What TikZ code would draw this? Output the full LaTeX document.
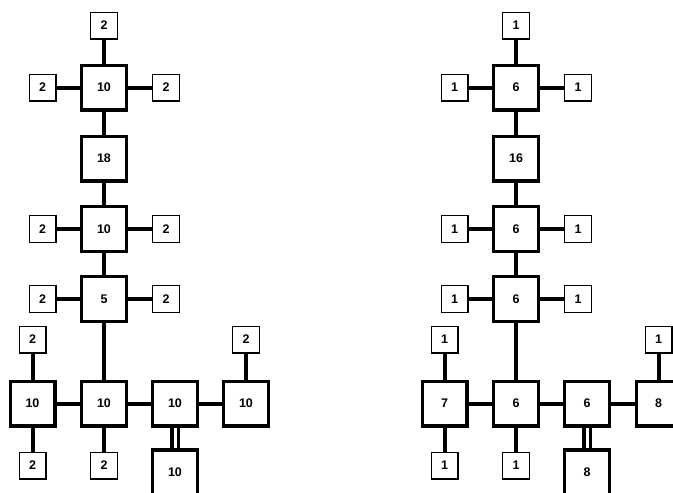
\documentclass[tikz,border=0pt]{standalone}
\usepackage{fontspec}
\setmainfont{Liberation Sans}
\begin{document}
\begin{tikzpicture}[x=1pt,y=-1pt,
  big/.style={draw=black,line width=3.3pt,fill=white,minimum width=44.7pt,minimum height=44.7pt,inner sep=0pt,font=\bfseries\fontsize{12.5}{14}\selectfont},
  small/.style={draw=black,line width=1.1pt,fill=white,minimum width=26.9pt,minimum height=26.9pt,inner sep=0pt,font=\bfseries\fontsize{12.5}{14}\selectfont},
  conn/.style={line width=4pt,draw=black},
  dconn/.style={line width=3.6pt,draw=black}]
\useasboundingbox (0,0) rectangle (673,493);
\clip (0,0) rectangle (673,493);
% ---------------- Left structure ----------------
\node[big] (La) at (104,87.5) {10};
\node[big] (Lb) at (104,158.5) {18};
\node[big] (Lc) at (104,229) {10};
\node[big] (Ld) at (104,299) {5};
\node[big] (Le1) at (32.5,403.5) {10};
\node[big] (Le2) at (104,403.5) {10};
\node[big] (Le3) at (175,403.5) {10};
\node[big] (Le4) at (246,403.5) {10};
\node[big] (Lf) at (175,472.3) {10};
\node[small] (Lat) at (104,25.5) {2};
\node[small] (Lal) at (42.5,87.5) {2};
\node[small] (Lar) at (166,87.5) {2};
\node[small] (Lcl) at (42.5,229) {2};
\node[small] (Lcr) at (166,229) {2};
\node[small] (Ldl) at (42.5,299) {2};
\node[small] (Ldr) at (166,299) {2};
\node[small] (Le1t) at (32.5,339.5) {2};
\node[small] (Le4t) at (246,339.5) {2};
\node[small] (Le1b) at (32.5,465.5) {2};
\node[small] (Le2b) at (104,465.5) {2};
% connectors left
\draw[conn] (Lat) -- (La);
\draw[conn] (Lal) -- (La);
\draw[conn] (La) -- (Lar);
\draw[conn] (La) -- (Lb);
\draw[conn] (Lb) -- (Lc);
\draw[conn] (Lcl) -- (Lc);
\draw[conn] (Lc) -- (Lcr);
\draw[conn] (Lc) -- (Ld);
\draw[conn] (Ldl) -- (Ld);
\draw[conn] (Ld) -- (Ldr);
\draw[conn] (Ld) -- (Le2);
\draw[conn] (Le1) -- (Le2);
\draw[conn] (Le2) -- (Le3);
\draw[conn] (Le3) -- (Le4);
\draw[conn] (Le1t) -- (Le1);
\draw[conn] (Le4t) -- (Le4);
\draw[conn] (Le1) -- (Le1b);
\draw[conn] (Le2) -- (Le2b);
\draw[dconn] ([xshift=-3.3pt]Le3.south) -- ([xshift=-3.3pt]Lf.north);
\draw[dconn] ([xshift=3.3pt]Le3.south) -- ([xshift=3.3pt]Lf.north);
% ---------------- Right structure ----------------
\node[big] (Ra) at (516,87.5) {6};
\node[big] (Rb) at (516,158.5) {16};
\node[big] (Rc) at (516,229) {6};
\node[big] (Rd) at (516,299) {6};
\node[big] (Re1) at (444.5,403.5) {7};
\node[big] (Re2) at (516,403.5) {6};
\node[big] (Re3) at (587,403.5) {6};
\node[big] (Re4) at (658.5,403.5) {8};
\node[big] (Rf) at (587,472.3) {8};
\node[small] (Rat) at (516,25.5) {1};
\node[small] (Ral) at (454.5,87.5) {1};
\node[small] (Rar) at (578,87.5) {1};
\node[small] (Rcl) at (454.5,229) {1};
\node[small] (Rcr) at (578,229) {1};
\node[small] (Rdl) at (454.5,299) {1};
\node[small] (Rdr) at (578,299) {1};
\node[small] (Re1t) at (444.5,339.5) {1};
\node[small] (Re4t) at (658.5,339.5) {1};
\node[small] (Re1b) at (444.5,465.5) {1};
\node[small] (Re2b) at (516,465.5) {1};
\draw[conn] (Rat) -- (Ra);
\draw[conn] (Ral) -- (Ra);
\draw[conn] (Ra) -- (Rar);
\draw[conn] (Ra) -- (Rb);
\draw[conn] (Rb) -- (Rc);
\draw[conn] (Rcl) -- (Rc);
\draw[conn] (Rc) -- (Rcr);
\draw[conn] (Rc) -- (Rd);
\draw[conn] (Rdl) -- (Rd);
\draw[conn] (Rd) -- (Rdr);
\draw[conn] (Rd) -- (Re2);
\draw[conn] (Re1) -- (Re2);
\draw[conn] (Re2) -- (Re3);
\draw[conn] (Re3) -- (Re4);
\draw[conn] (Re1t) -- (Re1);
\draw[conn] (Re4t) -- (Re4);
\draw[conn] (Re1) -- (Re1b);
\draw[conn] (Re2) -- (Re2b);
\draw[dconn] ([xshift=-3.3pt]Re3.south) -- ([xshift=-3.3pt]Rf.north);
\draw[dconn] ([xshift=3.3pt]Re3.south) -- ([xshift=3.3pt]Rf.north);
\end{tikzpicture}
\end{document}
